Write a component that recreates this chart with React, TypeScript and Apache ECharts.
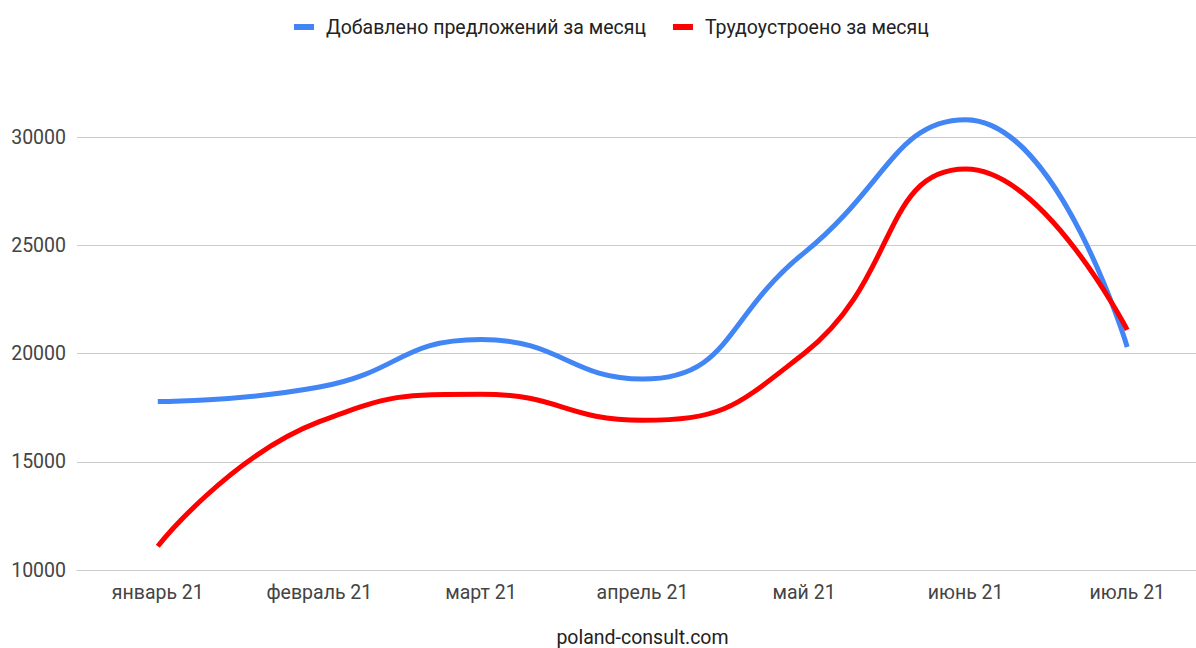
import React, { useEffect, useRef } from "react";
import * as echarts from "echarts";

const categories = ["январь 21", "февраль 21", "март 21", "апрель 21", "май 21", "июнь 21", "июль 21"];
const offersAdded = [17780, 18450, 20650, 18820, 24650, 30800, 20300];
const employed = [11100, 16850, 18120, 16920, 20000, 28520, 21090];
const yTicks = { min: 10000, max: 30000, interval: 5000 };

export default function App() {
  const ref = useRef<HTMLDivElement>(null);
  useEffect(() => {
    if (!ref.current) return;
    const chart = echarts.init(ref.current, undefined, { renderer: "svg" });
    const font = "Roboto, Arial, sans-serif";
    chart.setOption({
      animation: false,
      textStyle: { fontFamily: font },
      legend: {
        top: 12,
        left: 289,
        itemWidth: 20,
        itemHeight: 6,
        itemGap: 27,
        icon: "rect",
        textStyle: { fontSize: 19.5, color: "#222", fontFamily: font, padding: [0, 0, 0, 7] },
        data: ["Добавлено предложений за месяц", "Трудоустроено за месяц"],
      },
      grid: {
        left: 77,
        right: 0,
        top: 137,
        bottom: 78,
        containLabel: false,
        outerBoundsMode: "none",
      },
      xAxis: {
        type: "category",
        data: categories,
        boundaryGap: true,
        name: "poland-consult.com",
        nameLocation: "middle",
        nameGap: 57,
        nameTextStyle: { fontSize: 19.5, color: "#222", fontFamily: font },
        axisTick: { show: false },
        axisLine: { lineStyle: { color: "#ccc" } },
        axisLabel: { fontSize: 19.5, color: "#444", margin: 12, fontFamily: font },
      },
      yAxis: {
        type: "value",
        min: yTicks.min,
        max: yTicks.max,
        interval: yTicks.interval,
        axisLabel: {
          fontSize: 19.5,
          color: "#444",
          margin: 11,
          fontFamily: font,
          formatter: (v: number) => String(v),
        },
        splitLine: { lineStyle: { color: "#ccc", width: 1 } },
        axisLine: { show: false },
        axisTick: { show: false },
      },
      series: [
        {
          name: "Добавлено предложений за месяц",
          type: "line",
          data: offersAdded,
          smooth: 0.5,
          clip: false,
          showSymbol: false,
          symbol: "none",
          color: "#4285F4",
          lineStyle: { width: 5, color: "#4285F4" },
          z: 2,
        },
        {
          name: "Трудоустроено за месяц",
          type: "line",
          data: employed,
          smooth: 0.5,
          clip: false,
          showSymbol: false,
          symbol: "none",
          color: "#FF0000",
          lineStyle: { width: 5, color: "#FF0000" },
          z: 3,
        },
      ],
    });
    return () => chart.dispose();
  }, []);
  return (
    <div
      ref={ref}
      style={{ position: "fixed", left: 0, top: 0, width: 1208, height: 648, background: "#fff" }}
    />
  );
}
